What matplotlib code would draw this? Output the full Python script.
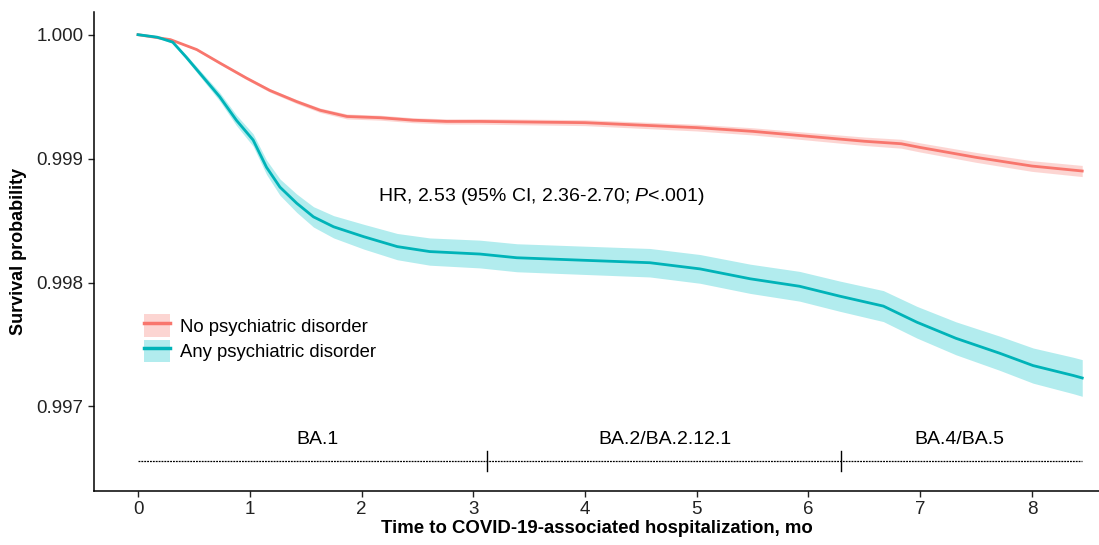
import numpy as np
import matplotlib
matplotlib.use("Agg")
import matplotlib.pyplot as plt
from matplotlib.patches import Patch
from matplotlib.lines import Line2D

plt.rcParams['font.family'] = ['Liberation Sans', 'DejaVu Sans']
plt.rcParams['mathtext.fontset'] = 'custom'
plt.rcParams['mathtext.rm'] = 'Liberation Sans'
plt.rcParams['mathtext.it'] = 'Liberation Sans:italic'

# curve values (months, survival probability, CI half width)
t_no = [0, 0.29, 0.525, 0.735, 0.97, 1.18, 1.42, 1.63, 1.87, 2.17, 2.46, 2.76, 3.06,
        4.0, 5.0, 5.5, 6.0, 6.5, 6.83, 7.0, 7.5, 8.0, 8.45]
s_no = [1.0, 0.99996, 0.99988, 0.99977, 0.99965, 0.99955, 0.99946, 0.99939, 0.99934,
        0.99933, 0.99931, 0.99930, 0.99930, 0.99929, 0.99925, 0.99922, 0.99918,
        0.99914, 0.99912, 0.99909, 0.99901, 0.99894, 0.99890]
ci_no = [0, 0.000004, 0.000008, 0.00001, 0.000012, 0.000014, 0.000016, 0.000018, 0.00002,
         0.00002, 0.00002, 0.000021, 0.000022, 0.000024, 0.000027, 0.000029, 0.000031,
         0.000034, 0.000036, 0.000037, 0.00004, 0.000043, 0.000045]

t_any = [0, 0.17, 0.31, 0.43, 0.58, 0.73, 0.88, 1.03, 1.15, 1.27, 1.42, 1.57, 1.75,
         2.02, 2.32, 2.61, 3.06, 3.39, 3.98, 4.58, 5.03, 5.48, 5.92, 6.28, 6.67,
         6.97, 7.32, 7.71, 8.01, 8.37, 8.45]
s_any = [1.0, 0.99998, 0.99994, 0.99982, 0.99966, 0.99950, 0.99931, 0.99915, 0.99893,
         0.99877, 0.99864, 0.99853, 0.99845, 0.99837, 0.99829, 0.99825, 0.99823,
         0.99820, 0.99818, 0.99816, 0.99811, 0.99803, 0.99797, 0.99789, 0.99781,
         0.99768, 0.99755, 0.99743, 0.99733, 0.99725, 0.99723]
ci_any = [0, 0.000005, 0.00001, 0.000018, 0.000026, 0.000034, 0.000042, 0.00005, 0.000058,
          0.000066, 0.000074, 0.000082, 0.00009, 0.0001, 0.000106, 0.00011, 0.000112,
          0.000113, 0.000114, 0.000115, 0.000116, 0.000118, 0.00012, 0.000122, 0.000125,
          0.000128, 0.000133, 0.000138, 0.000142, 0.000147, 0.000148]

labels = ["No psychiatric disorder", "Any psychiatric disorder"]
colors = ["#F8766D", "#00B3B8"]
fills = ["#F8766D", "#00C2C7"]

periods = ["BA.1", "BA.2/BA.2.12.1", "BA.4/BA.5"]
period_mid = [1.61, 4.72, 7.35]
period_breaks = [3.12, 6.29]
period_end = 8.45

fig = plt.figure(figsize=(10.99, 5.45), dpi=100)
ax = fig.add_axes([94 / 1099, 1 - 491 / 545, 1 - 94 / 1099, (491 - 12) / 545])

series = [(t_no, s_no, ci_no), (t_any, s_any, ci_any)]
for (t, s, ci), c, f in zip(series, colors, fills):
    t = np.array(t); s = np.array(s); ci = np.array(ci)
    ax.fill_between(t, s - ci, s + ci, color=f, alpha=0.3, lw=0)
    ax.plot(t, s, color=c, lw=2.0)

# variant periods
yb = 0.99656
ax.plot([0, period_end], [yb, yb], color='black', lw=0.9, ls=(0, (1.5, 0.8)))
for b in period_breaks:
    ax.plot([b, b], [yb - 0.00008, yb + 0.00008], color='black', lw=1.0)
for lab, m in zip(periods, period_mid):
    ax.text(m, 0.99673, lab, ha='center', va='center', fontsize=14)

ax.text(2.15, 0.998693, r"HR, 2.53 (95% CI, 2.36-2.70; $\it{P}$<.001)",
        ha='left', va='center', fontsize=14)

ax.set_xlim(-0.394, 8.60)
ax.set_ylim(0.996318, 1.000183)
ax.set_xticks(range(0, 9))
ax.set_yticks([0.997, 0.998, 0.999, 1.000])
ax.set_yticklabels(["0.997", "0.998", "0.999", "1.000"])
ax.tick_params(labelsize=13.5, length=4, width=1, colors='#222222')
for sp in ['top', 'right']:
    ax.spines[sp].set_visible(False)
for sp in ['left', 'bottom']:
    ax.spines[sp].set_linewidth(1.1)

ax.set_xlabel("Time to COVID-19-associated hospitalization, mo", fontsize=13.4,
              fontweight='bold', labelpad=1)
ax.set_ylabel("Survival probability", fontsize=13, fontweight='bold', labelpad=7)

handles = [(Patch(facecolor=f, alpha=0.3, lw=0), Line2D([], [], color=c, lw=2.5))
           for c, f in zip(colors, fills)]
ax.legend(handles, labels, loc='upper left', bbox_to_anchor=(0.0498, 0.369),
          frameon=False, fontsize=13.3, handlelength=1.4, handleheight=1.5,
          labelspacing=0.15, handletextpad=0.55, borderpad=0, borderaxespad=0)

fig.savefig("out.png", dpi=100)
